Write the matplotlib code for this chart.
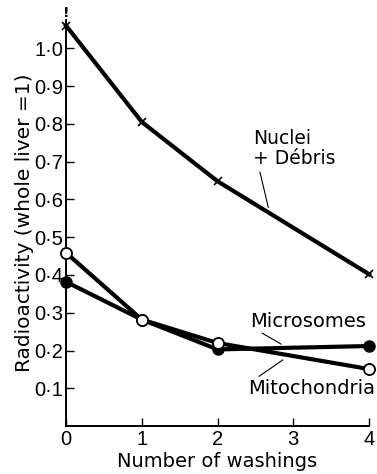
import matplotlib
matplotlib.use("Agg")
import matplotlib.pyplot as plt
from matplotlib.ticker import FuncFormatter

# values
washings = [0, 1, 2, 4]
nuclei = [1.06, 0.805, 0.648, 0.402]
microsomes = [0.382, 0.282, 0.203, 0.212]
mitochondria = [0.459, 0.282, 0.220, 0.151]

x_ticks = [0, 1, 2, 3, 4]
y_ticks = [0.1, 0.2, 0.3, 0.4, 0.5, 0.6, 0.7, 0.8, 0.9, 1.0]

plt.rcParams["font.family"] = ["DejaVu Sans"]

fig = plt.figure(figsize=(3.77, 4.74), dpi=100)
ax = fig.add_axes([0.175, 0.101, 0.804, 0.857])

lw = 3.0
ax.plot(washings, nuclei, color="black", lw=lw, marker="x", ms=6,
        mew=1.2, clip_on=False, zorder=3)
ax.plot(washings, microsomes, color="black", lw=lw, marker="o", ms=8,
        mfc="black", mec="black", clip_on=False, zorder=3)
ax.plot(washings, mitochondria, color="black", lw=lw, marker="o", ms=8,
        mfc="white", mec="black", mew=1.3, clip_on=False, zorder=4)

# small mark above the first nuclei point
ax.annotate("!", (washings[0], nuclei[0]), xytext=(0, 4),
            textcoords="offset points", ha="center", va="bottom",
            fontsize=10, fontweight="bold")

ax.set_xlim(0, 4)
ax.set_ylim(0, 1.075)
ax.set_xticks(x_ticks)
ax.set_yticks(y_ticks)
ax.yaxis.set_major_formatter(FuncFormatter(lambda v, p: f"{v:.1f}".replace(".", "\u00b7")))
ax.tick_params(direction="in", length=6, width=1, labelsize=14.5)
ax.tick_params(axis="y", pad=2)
ax.tick_params(axis="x", pad=3)
for lab in ax.get_xticklabels() + ax.get_yticklabels():
    lab.set_family("Liberation Sans")

for s in ("top", "right"):
    ax.spines[s].set_visible(False)
for s in ("left", "bottom"):
    ax.spines[s].set_linewidth(1.4)

ax.set_xlabel("Number of washings", fontsize=14, labelpad=2)
ax.set_ylabel("Radioactivity (whole liver =1)", fontsize=14.5, labelpad=0)

# curve labels with leader lines
ax.text(2.47, 0.735, "Nuclei\n+ Débris", fontsize=13.5, va="center", ha="left",
        linespacing=1.05)
ax.plot([2.56, 2.67], [0.672, 0.579], color="black", lw=0.8)

ax.text(2.43, 0.276, "Microsomes", fontsize=14, va="center", ha="left")
ax.plot([2.59, 2.84], [0.246, 0.217], color="black", lw=0.8)

ax.text(2.40, 0.100, "Mitochondria", fontsize=14, va="center", ha="left")
ax.plot([2.55, 2.86], [0.132, 0.175], color="black", lw=0.8)

fig.savefig("out.png", dpi=100)
